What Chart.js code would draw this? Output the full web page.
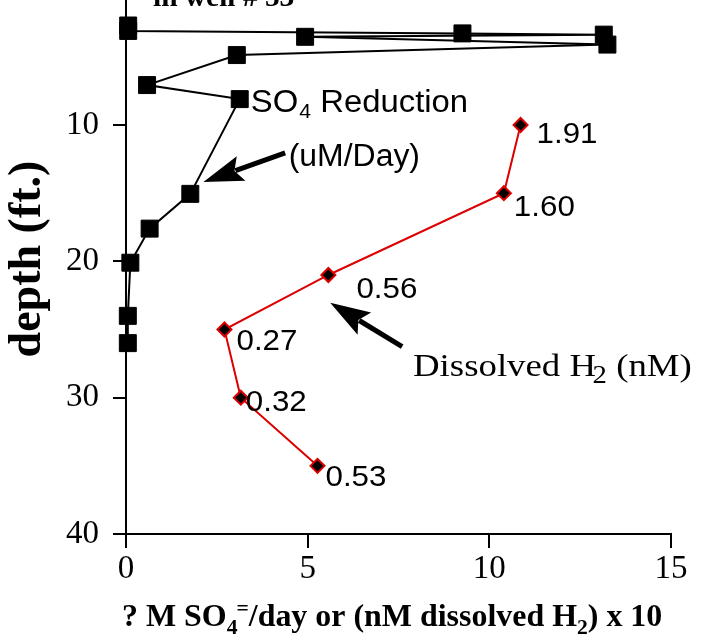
<!DOCTYPE html>
<html><head><meta charset="utf-8">
<script src="https://cdn.jsdelivr.net/npm/chart.js@4.4.0/dist/chart.umd.min.js"></script>
<style>html,body{margin:0;padding:0;background:#fff;}canvas{display:block;}</style>
</head><body>
<canvas id="c" width="703" height="640"></canvas>
<script>
// ---- data ----
const so4X     = [0.06, 0.06, 9.26, 13.15, 4.93, 13.25, 3.05, 0.58, 3.13, 1.77, 0.65, 0.12, 0.05, 0.05];
const so4Depth = [2.7, 3.1, 3.28, 3.37, 3.53, 4.1, 4.87, 7.07, 8.1, 15.05, 17.6, 20.1, 24.0, 26.0];
const h2X      = [10.86, 10.4, 5.57, 2.71, 3.16, 5.27];
const h2Depth  = [10, 15, 21, 25, 30, 35];
const h2Labels = ['1.91', '1.60', '0.56', '0.27', '0.32', '0.53'];
const xTicks   = [0, 5, 10, 15];
const yTicks   = [10, 20, 30, 40];

// ---- layout / annotation styling ----
const labelOffsets = [[16, 18], [10, 23], [28, 23], [12, 20], [5, 13], [8, 20]];
const arrows = [
  {from: [4.38, 12.05], to: [2.13, 14.18]},
  {from: [7.6, 26.26], to: [5.62, 23.04]}
];
const dissolvedAnchor = [7.9, 28.39];

function drawArrow(ctx, x1, y1, x2, y2, hl, hw, lw) {
  const a = Math.atan2(y2 - y1, x2 - x1);
  const c = Math.cos(a), s = Math.sin(a);
  const bx = x2 - hl * c, by = y2 - hl * s;
  ctx.lineWidth = lw;
  ctx.lineCap = 'butt';
  ctx.beginPath(); ctx.moveTo(x1, y1); ctx.lineTo(bx + 6 * c, by + 6 * s); ctx.stroke();
  ctx.beginPath();
  ctx.moveTo(x2, y2);
  ctx.lineTo(bx + hw / 2 * s, by - hw / 2 * c);
  ctx.lineTo(bx + 7 * c, by + 7 * s);
  ctx.lineTo(bx - hw / 2 * s, by + hw / 2 * c);
  ctx.closePath(); ctx.fill();
}

// parts: [text, font, dy, dxBefore]
function drawRich(ctx, parts, x, y, sx) {
  ctx.save();
  ctx.translate(x, y);
  ctx.scale(sx || 1, 1);
  let cx = 0;
  parts.forEach(p => {
    ctx.font = p[1];
    cx += (p[3] || 0);
    ctx.fillText(p[0], cx, p[2] || 0);
    cx += ctx.measureText(p[0]).width;
  });
  ctx.restore();
}

const annot = {
  id: 'annot',
  afterDraw(chart) {
    const ctx = chart.ctx, xs = chart.scales.x, ys = chart.scales.y, ca = chart.chartArea;
    ctx.save();
    ctx.fillStyle = '#000'; ctx.strokeStyle = '#000';
    ctx.textAlign = 'left'; ctx.textBaseline = 'alphabetic';
    const sans = '"Liberation Sans", Arial, sans-serif';
    const serif = '"Liberation Serif", "Times New Roman", serif';

    // H2 value labels
    h2Labels.forEach((t, i) => {
      const px = xs.getPixelForValue(h2X[i]) + labelOffsets[i][0];
      const py = ys.getPixelForValue(h2Depth[i]) + labelOffsets[i][1];
      drawRich(ctx, [[t, '29px ' + sans]], px, py, 1.08);
    });

    // SO4 text near point index 8
    const sx0 = xs.getPixelForValue(so4X[8]), sy0 = ys.getPixelForValue(so4Depth[8]);
    drawRich(ctx, [['SO', '31px ' + sans], ['4', '20px ' + sans, 6, 1], [' Reduction', '31px ' + sans]], sx0 + 11, sy0 + 13, 1.06);
    drawRich(ctx, [['(uM/Day)', '31px ' + sans]], sx0 + 49, sy0 + 67, 1.03);

    // Dissolved H2 text
    const dx0 = xs.getPixelForValue(dissolvedAnchor[0]), dy0 = ys.getPixelForValue(dissolvedAnchor[1]);
    drawRich(ctx, [['Dissolved H', '32px ' + serif], ['2', '25px ' + serif, 7, -3], [' (nM)', '32px ' + serif]], dx0, dy0, 1.15);

    // arrows
    arrows.forEach(a => {
      drawArrow(ctx, xs.getPixelForValue(a.from[0]), ys.getPixelForValue(a.from[1]),
                xs.getPixelForValue(a.to[0]), ys.getPixelForValue(a.to[1]), 40, 26, 5);
    });

    // x axis title
    const bs = 'bold 31px ' + serif, bsm = 'bold 21px ' + serif;
    drawRich(ctx, [['? M SO', bs], ['4', bsm, 8], ['=', bsm, -11, -1], ['/day or (nM dissolved H', bs], ['2', bsm, 8], [') x 10', bs]], ca.left - 4, ca.bottom + 92, 1.03);

    // y axis title
    ctx.save();
    ctx.translate(40, 259);
    ctx.rotate(-Math.PI / 2);
    ctx.textAlign = 'center';
    ctx.font = 'bold 46px ' + serif;
    ctx.fillText('depth (ft.)', 0, 0);
    ctx.restore();

    // top title (cut off by the figure edge)
    drawRich(ctx, [['in well # 53', 'bold 28px ' + serif]], ca.left + 27, 6, 1.05);
    ctx.restore();
  }
};

const tickFont = {family: '"Liberation Serif", "Times New Roman", serif', size: 33};

new Chart(document.getElementById('c'), {
  type: 'scatter',
  data: {
    datasets: [
      {
        label: 'SO4 Reduction (uM/Day)',
        data: so4X.map((v, i) => ({x: v, y: so4Depth[i]})),
        showLine: true, borderColor: '#000', borderWidth: 2,
        pointStyle: 'rect', pointRadius: 12, pointBackgroundColor: '#000',
        pointBorderColor: '#000', pointBorderWidth: 1, clip: false
      },
      {
        label: 'Dissolved H2 (nM)',
        data: h2X.map((v, i) => ({x: v, y: h2Depth[i]})),
        showLine: true, borderColor: '#dd0000', borderWidth: 2,
        pointStyle: 'rectRot', pointRadius: 7, pointBackgroundColor: '#000',
        pointBorderColor: '#dd0000', pointBorderWidth: 2, clip: false
      }
    ]
  },
  options: {
    responsive: false, animation: false, events: [],
    layout: {autoPadding: false, padding: {left: 0, right: 32, top: 0, bottom: 0}},
    plugins: {legend: {display: false}, tooltip: {enabled: false}},
    scales: {
      x: {
        type: 'linear', position: 'bottom', min: 0, max: 15,
        afterBuildTicks: s => { s.ticks = xTicks.map(v => ({value: v})); },
        afterFit: s => { s.height = 106; s.paddingLeft = 0; s.paddingRight = 0; },
        grid: {drawOnChartArea: false, drawTicks: true, tickLength: 14, color: '#000', lineWidth: 2},
        border: {display: true, color: '#000', width: 2},
        ticks: {color: '#000', font: tickFont, padding: 2, maxRotation: 0}
      },
      y: {
        type: 'linear', position: 'left', reverse: true, min: 0.83, max: 40,
        afterBuildTicks: s => { s.ticks = yTicks.map(v => ({value: v})); },
        afterFit: s => { s.width = 126; s.paddingTop = 0; s.paddingBottom = 0; },
        grid: {drawOnChartArea: false, drawTicks: true, tickLength: 13, color: '#000', lineWidth: 2},
        border: {display: true, color: '#000', width: 2},
        ticks: {color: '#000', font: tickFont, padding: 14}
      }
    }
  },
  plugins: [annot]
});
</script>
</body></html>
